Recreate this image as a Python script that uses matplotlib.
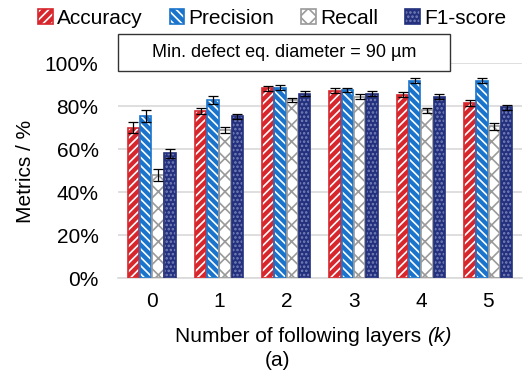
import numpy as np
import matplotlib
matplotlib.use("Agg")
import matplotlib.pyplot as plt
from matplotlib.patches import Rectangle
from matplotlib.legend_handler import HandlerTuple
from matplotlib.ticker import PercentFormatter

plt.rcParams["font.family"] = ["Liberation Sans", "DejaVu Sans"]
plt.rcParams["hatch.linewidth"] = 1.2

# data: metrics vs. number of following layers
k_layers = ["0", "1", "2", "3", "4", "5"]
metric_names = ["Accuracy", "Precision", "Recall", "F1-score"]
accuracy = [70.0, 77.5, 88.2, 87.2, 85.3, 81.5]
precision = [75.5, 82.8, 88.6, 87.5, 91.8, 91.8]
recall = [47.8, 68.8, 82.8, 84.3, 78.0, 70.5]
f1_score = [58.0, 75.2, 85.8, 85.8, 84.3, 79.5]
acc_err = [2.7, 1.4, 1.0, 1.0, 1.2, 1.3]
prec_err = [2.7, 1.9, 1.1, 1.1, 1.3, 1.3]
rec_err = [2.7, 1.5, 1.1, 1.1, 1.2, 1.5]
f1_err = [2.2, 1.3, 1.0, 1.0, 1.2, 1.2]

values = [accuracy, precision, recall, f1_score]
errors = [acc_err, prec_err, rec_err, f1_err]

# fill, hatch colour, outline, hatch
styles = [
    ("#d7262c", "white", "#d7262c", "////"),
    ("#1a74cc", "white", "#1a74cc", "\\\\\\\\"),
    ("white", "#9a9a9a", "#9a9a9a", "xx"),
    ("#23307e", "#7a83b8", "#23307e", "...."),
]

fig = plt.figure(figsize=(5.25, 3.8), dpi=100)
ax = fig.add_axes([0.2248, 0.2684, 0.7692, 0.5656])

x = np.arange(len(k_layers))
width = 0.17
step = 0.182
handles = []
for i, (vals, errs, (fc, hc, ec, hatch)) in enumerate(zip(values, errors, styles)):
    pos = x + (i - 1.5) * step
    ax.bar(pos, np.array(vals) / 100, width, color=fc, edgecolor=hc,
           hatch=hatch, linewidth=0, zorder=2)
    ax.bar(pos, np.array(vals) / 100, width, fill=False, edgecolor=ec,
           linewidth=1.2, zorder=3)
    ax.errorbar(pos, np.array(vals) / 100, yerr=np.array(errs) / 100, fmt="none",
                ecolor="black", elinewidth=0.9, capsize=3.5, capthick=0.9, zorder=4)
    h_fill = Rectangle((0, 0), 1, 1, facecolor=fc, edgecolor=hc, hatch=hatch, linewidth=0)
    h_edge = Rectangle((0, 0), 1, 1, fill=False, edgecolor=ec, linewidth=1.2)
    handles.append((h_fill, h_edge))

ax.set_xlim(-0.5, 5.5)
ax.set_ylim(0, 1)
ax.set_xticks(x)
ax.set_xticklabels(k_layers, fontsize=15)
ax.set_yticks(np.arange(0, 1.01, 0.2))
ax.yaxis.set_major_formatter(PercentFormatter(1.0, decimals=0))
ax.tick_params(axis="y", labelsize=15, length=0, pad=14)
ax.tick_params(axis="x", length=0, pad=10)
ax.grid(axis="y", color="#d9d9d9", linewidth=1.2, zorder=0)
ax.set_axisbelow(True)
for s in ["top", "right", "left"]:
    ax.spines[s].set_visible(False)
ax.spines["bottom"].set_color("#d9d9d9")
ax.spines["bottom"].set_linewidth(1.2)

# x label with italic k
fig.text(427 / 525, 0.114, "Number of following layers ", fontsize=15, ha="right", va="center")
fig.text(427 / 525, 0.114, "(k)", fontsize=15, style="italic", ha="left", va="center")
fig.text(0.528, 0.052, "(a)", fontsize=15, ha="center", va="center")
fig.text(0.048, 0.548, "Metrics / %", fontsize=15, rotation=90, ha="center", va="center")

# boxed note
box = Rectangle((118 / 525, 1 - 71 / 380), (450 - 118) / 525, 37 / 380,
                transform=fig.transFigure, facecolor="white", edgecolor="#333333",
                linewidth=1.0, zorder=5)
fig.add_artist(box)
fig.text((118 + 450) / 2 / 525, 1 - 52.5 / 380, "Min. defect eq. diameter = 90 µm",
         fontsize=13, ha="center", va="center", zorder=6)

fig.legend(handles, metric_names, handler_map={tuple: HandlerTuple(ndivide=1)},
           loc="center", bbox_to_anchor=(272 / 525, 0.952), ncol=4, frameon=False,
           fontsize=15, handlelength=0.7, handleheight=0.7, handletextpad=0.2,
           columnspacing=1.3, borderaxespad=0, borderpad=0)

fig.savefig("out.png", dpi=100)
